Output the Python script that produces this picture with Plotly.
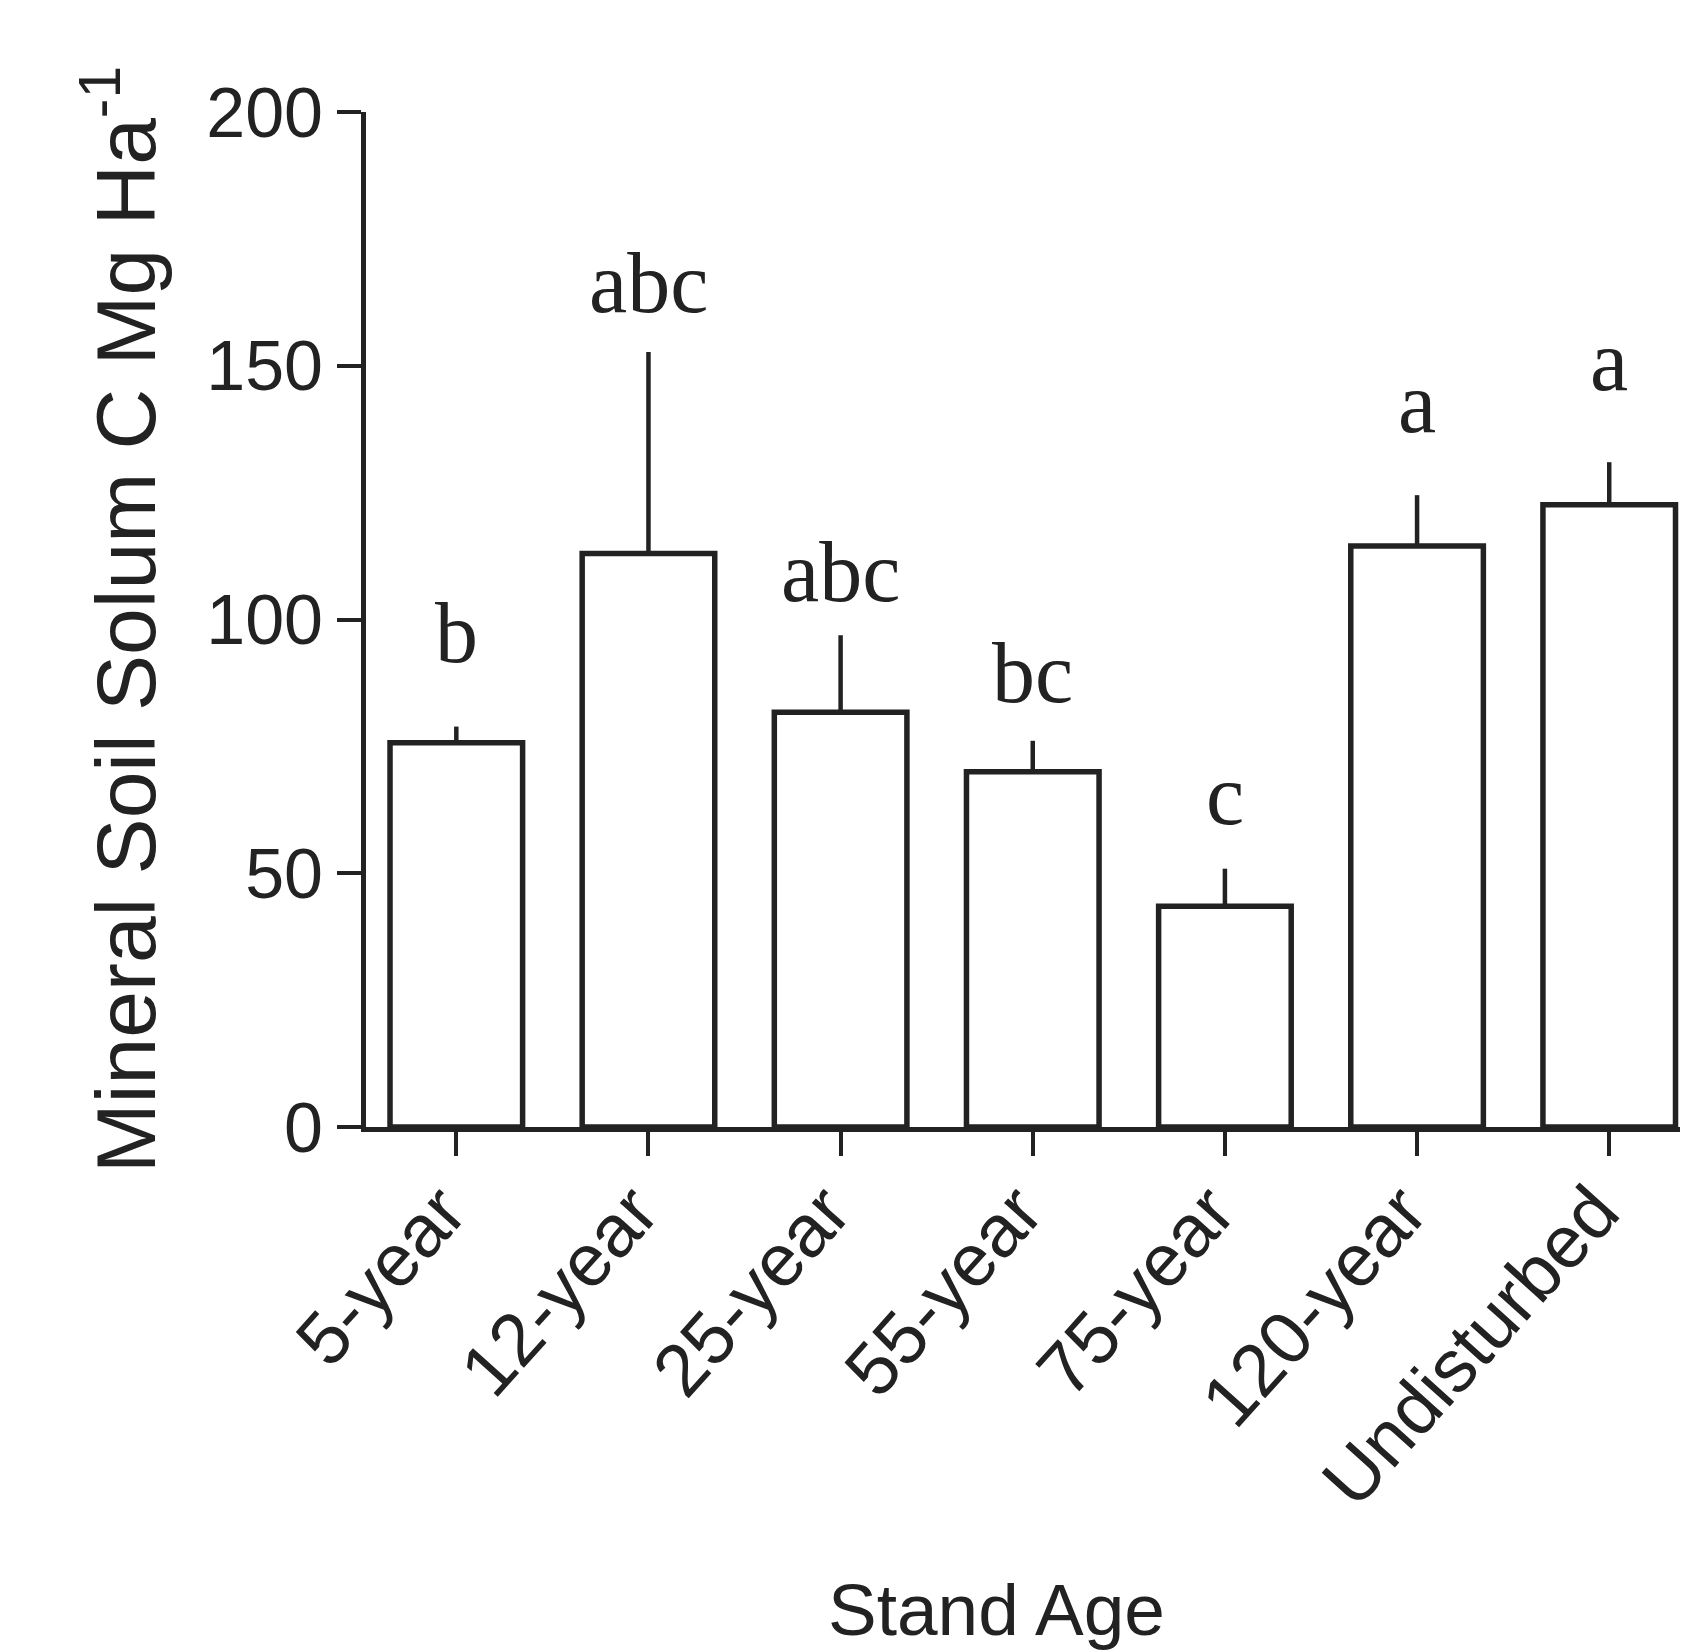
import plotly.graph_objects as go

categories = ["5-year", "12-year", "25-year", "55-year", "75-year", "120-year", "Undisturbed"]
means = [75.7, 113.0, 81.7, 70.0, 43.5, 114.5, 122.6]
se_upper = [3.2, 39.7, 15.2, 6.1, 7.4, 10.0, 8.4]
letters = ["b", "abc", "abc", "bc", "c", "a", "a"]
letter_baseline = [91.2, 160.1, 103.3, 83.4, 59.4, 136.6, 144.9]
y_ticks = [0, 50, 100, 150, 200]

INK = "#222222"

fig = go.Figure()
fig.add_trace(go.Bar(
    x=categories,
    y=means,
    width=0.69,
    marker=dict(color="white", line=dict(color=INK, width=5.5)),
    error_y=dict(type="data", symmetric=False, array=se_upper,
                 arrayminus=[0] * len(means), width=0, thickness=4.5, color=INK),
    showlegend=False,
))

for cat, let, yb in zip(categories, letters, letter_baseline):
    fig.add_annotation(
        x=cat, y=yb, text=let, showarrow=False,
        xanchor="center", yanchor="bottom", yshift=-19,
        font=dict(family="Liberation Serif, Times New Roman, serif", size=86, color=INK),
    )

# x-axis title (placed as annotation to match the reference's horizontal position)
fig.add_annotation(
    xref="paper", yref="paper", x=0.4769, y=-0.4756,
    text="Stand Age", showarrow=False, xanchor="center", yanchor="middle",
    font=dict(family="Liberation Sans, Arial, sans-serif", size=73, color=INK),
)

# page body has an 8px default margin: figure is sized/offset to compensate
fig.update_layout(
    width=1680, height=1644,
    margin=dict(l=358, r=0, t=104, b=525),
    paper_bgcolor="white", plot_bgcolor="white",
    font=dict(family="Liberation Sans, Arial, sans-serif", color=INK),
)
fig.update_xaxes(
    range=[-0.47, 6.41],
    showline=True, linecolor=INK, linewidth=5,
    ticks="outside", ticklen=24, tickwidth=4, tickcolor=INK,
    tickangle=-48,
    tickfont=dict(size=74, color=INK),
    ticklabelstandoff=-18, ticklabelshift=-14,
    showgrid=False, zeroline=False,
    automargin=False,
)
fig.update_yaxes(
    range=[0, 200],
    tickvals=y_ticks,
    showline=True, linecolor=INK, linewidth=5,
    ticks="outside", ticklen=24, tickwidth=4, tickcolor=INK,
    tickfont=dict(size=70, color=INK),
    showgrid=False, zeroline=False,
    title=dict(text="Mineral Soil Solum C Mg Ha<sup>-1</sup>", font=dict(size=84, color=INK), standoff=24),
    automargin=False,
)

fig.write_html("out.html")
